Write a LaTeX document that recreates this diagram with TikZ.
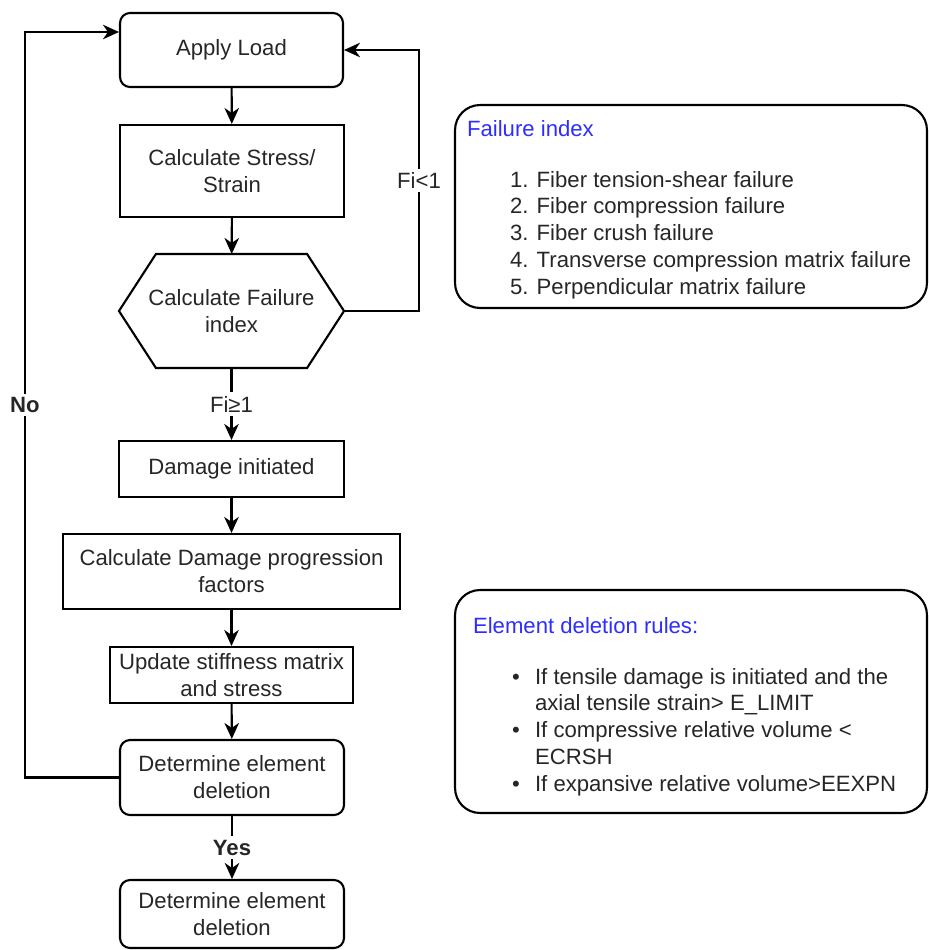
\documentclass[tikz,border=0pt]{standalone}
\usepackage{fontspec}
\setmainfont{Liberation Sans}
\usetikzlibrary{arrows.meta}
\definecolor{titleblue}{RGB}{45,45,255}
\newcommand{\bul}{\makebox[0.46cm][l]{\textbullet}}
\newcommand{\bulskip}{\hspace*{0.46cm}}

\begin{document}
\begin{tikzpicture}[x=0.02cm, y=-0.02cm, line width=1.2pt,
    every node/.style={font=\fontsize{12.6}{15.3}\selectfont, inner sep=0pt, text=black!85},
    box/.style={rectangle, draw, align=center},
    rbox/.style={box, rounded corners=2mm},
    note/.style={draw, rounded corners=5mm, minimum width=9.44cm},
    flow/.style={-{Stealth[length=3.2mm, width=2.9mm, inset=1mm]}},
    lbl/.style={fill=white, inner sep=2pt}]
    \useasboundingbox (0,0) rectangle (929,950);
    % main flow
    \node[rbox, minimum width=4.46cm, minimum height=1.48cm] (apply) at (231.5,50) {Apply Load};
    \node[box, minimum width=4.48cm, minimum height=1.84cm] (stress) at (232,171) {Calculate Stress/\\Strain};
    \node[align=center, minimum width=4.46cm, minimum height=2.24cm] (fail) at (231.5,311) {Calculate Failure\\index};
    \draw (fail.west) -- ([xshift=0.74cm]fail.north west) -- ([xshift=-0.74cm]fail.north east)
        -- (fail.east) -- ([xshift=-0.74cm]fail.south east) -- ([xshift=0.74cm]fail.south west) -- cycle;
    \node[box, minimum width=4.5cm, minimum height=1.12cm] (init) at (231.5,469) {Damage initiated};
    \node[box, minimum width=6.74cm, minimum height=1.5cm] (progress) at (231.5,571.5) {Calculate Damage progression\\factors};
    \node[box, minimum width=4.86cm, minimum height=1.12cm] (update) at (231.5,675) {Update stiffness matrix\\and stress};
    \node[rbox, minimum width=4.48cm, minimum height=1.5cm] (decide) at (232,777.5) {Determine element\\deletion};
    \node[rbox, minimum width=4.48cm, minimum height=1.36cm] (delete) at (232,914) {Determine element\\deletion};

    \draw[flow] (apply) -- (stress);
    \draw[flow] (stress) -- (fail);
    \draw[flow] (fail) -- node[lbl] {Fi≥1} (init);
    \draw[flow] (init) -- (progress);
    \draw[flow] (progress) -- (update);
    \draw[flow] (update) -- (decide);
    \draw[flow] (decide) -- node[lbl] {\textbf{Yes}} (delete);
    \draw[flow] (fail.east) -- ++(75,0) |- node[lbl, pos=0.25] {Fi<1} (apply.east);
    \draw[flow] (decide.west) -- ++(-94,0) |- node[lbl, pos=0.25] {\textbf{No}} ([yshift=3.6mm]apply.west);

    % notes
    \node[note, minimum height=4.06cm] (findex) at (691,206.5) {};
    \node[anchor=west, text=titleblue] (ftitle) at (466,129) {Failure index};
    \node[anchor=north west, align=left] (flist) at (509,170) {1. Fiber tension-shear failure\\
        2. Fiber compression failure\\3. Fiber crush failure\\
        4. Transverse compression matrix failure\\5. Perpendicular matrix failure};

    \node[note, minimum height=4.46cm] (rules) at (691,701.5) {};
    \node[anchor=west, text=titleblue] (rtitle) at (472,626) {Element deletion rules:};
    \node[anchor=north west, align=left] (rlist) at (511,667) {\bul If tensile damage is initiated and the\\
        \bulskip axial tensile strain> E\_LIMIT\\\bul If compressive relative volume <\\
        \bulskip ECRSH\\\bul If expansive relative volume>EEXPN};
\end{tikzpicture}
\end{document}
